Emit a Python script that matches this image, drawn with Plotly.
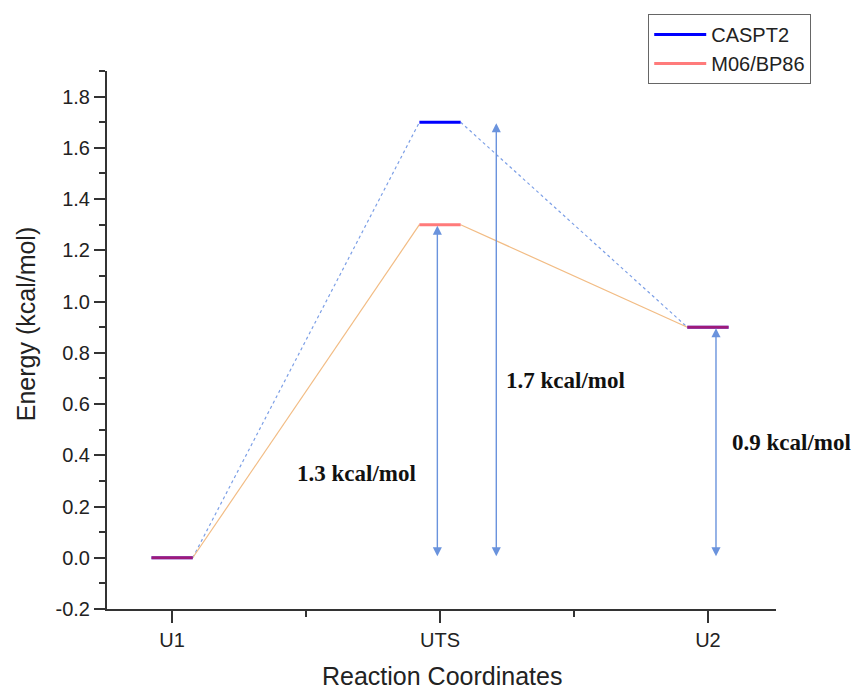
import plotly.graph_objects as go

# ---- data ----
states = ["U1", "UTS", "U2"]
state_pos = [1, 2, 3]
caspt2 = [0.0, 1.7, 0.9]
m06 = [0.0, 1.3, 0.9]
barrier_values = [1.3, 1.7, 0.9]
barrier_labels = ["1.3 kcal/mol", "1.7 kcal/mol", "0.9 kcal/mol"]
arrow_x = [1.99, 2.21, 3.03]
label_x = [1.69, 2.47, 3.312]
label_y = [0.33, 0.69, 0.45]
energy_ticks = [-0.2, 0.0, 0.2, 0.4, 0.6, 0.8, 1.0, 1.2, 1.4, 1.6, 1.8]
energy_ticktext = ["-0.2", "0.0", "0.2", "0.4", "0.6", "0.8", "1.0",
                   "1.2", "1.4", "1.6", "1.8"]

X_RANGE = [0.757, 3.254]
Y_RANGE = [-0.2, 1.9]
HW = 0.077  # half width of the level bars


def level_xy(vals):
    xs, ys = [], []
    for p, v in zip(state_pos, vals):
        xs += [p - HW, p + HW, None]
        ys += [v, v, None]
    return xs, ys


def connector_xy(vals):
    xs, ys = [], []
    for i in range(len(vals) - 1):
        xs += [state_pos[i] + HW, state_pos[i + 1] - HW, None]
        ys += [vals[i], vals[i + 1], None]
    return xs, ys


fig = go.Figure()

cx, cy = connector_xy(caspt2)
fig.add_trace(go.Scatter(x=cx, y=cy, mode="lines", showlegend=False,
                         line=dict(color="#7C9FE6", width=1.2, dash="dot"),
                         hoverinfo="skip"))
mx, my = connector_xy(m06)
fig.add_trace(go.Scatter(x=mx, y=my, mode="lines", showlegend=False,
                         line=dict(color="#F2BC84", width=1.2),
                         hoverinfo="skip"))

lx, ly = level_xy(caspt2)
fig.add_trace(go.Scatter(x=lx, y=ly, mode="lines", name="CASPT2",
                         line=dict(color="#0000FF", width=3)))
lx, ly = level_xy(m06)
fig.add_trace(go.Scatter(x=lx, y=ly, mode="lines", name="M06/BP86",
                         opacity=0.62,
                         line=dict(color="#FF2A2A", width=3)))

annotations = []
for x, v in zip(arrow_x, barrier_values):
    annotations.append(dict(
        x=x, y=v, ax=x, ay=0.0, xref="x", yref="y", axref="x", ayref="y",
        text="", showarrow=True, arrowside="end+start",
        arrowhead=2, startarrowhead=2, arrowsize=1.3, startarrowsize=1.3,
        arrowwidth=1.4, arrowcolor="#6A93DD", standoff=1, startstandoff=0))
# value labels (converted to paper coordinates so the one right of the
# axis range is still shown)
for t, x, y in zip(barrier_labels, label_x, label_y):
    px = (x - X_RANGE[0]) / (X_RANGE[1] - X_RANGE[0])
    py = (y - Y_RANGE[0]) / (Y_RANGE[1] - Y_RANGE[0])
    annotations.append(dict(
        x=px, y=py, xref="paper", yref="paper", text="<b>" + t + "</b>",
        showarrow=False, xanchor="center", yanchor="middle",
        font=dict(family="Liberation Serif, Times New Roman, serif",
                  size=23, color="#111111")))

title_font = dict(family="Liberation Sans, Arial, sans-serif", size=25,
                  color="#222222")
# axis titles placed as text
annotations.append(dict(
    x=-0.122, y=0.53, xref="paper", yref="paper", xanchor="center",
    yanchor="middle", textangle=-90, showarrow=False,
    text="Energy (kcal/mol)", font=title_font))
annotations.append(dict(
    x=0.5, y=-0.125, xref="paper", yref="paper", xanchor="center",
    yanchor="middle", showarrow=False,
    text="Reaction Coordinates", font=title_font))

axis_common = dict(
    showline=True, linewidth=2, linecolor="#333333", mirror=False,
    showgrid=False, zeroline=False, ticks="outside", tickwidth=2,
    tickcolor="#333333", automargin=False,
    tickfont=dict(family="Liberation Sans, Arial, sans-serif", size=20,
                  color="#222222"),
)

# the page adds an 8px body margin, so the figure is 8px smaller
fig.update_layout(
    width=853, height=683,
    margin=dict(l=99, r=85, t=63, b=82, autoexpand=False),
    paper_bgcolor="white", plot_bgcolor="white",
    font=dict(family="Liberation Sans, Arial, sans-serif", color="#222222"),
    xaxis=dict(
        range=X_RANGE, tickmode="array", tickvals=state_pos,
        ticktext=states, ticklen=12,
        minor=dict(ticks="outside", dtick=0.5, tick0=0.5, ticklen=6,
                   tickwidth=2, tickcolor="#333333"),
        **axis_common),
    yaxis=dict(
        range=Y_RANGE, tickmode="array", tickvals=energy_ticks,
        ticktext=energy_ticktext, ticklen=11,
        minor=dict(ticks="outside", dtick=0.1, tick0=0, ticklen=6,
                   tickwidth=2, tickcolor="#333333"),
        **axis_common),
    legend=dict(x=0.809, y=1.106, xanchor="left", yanchor="top",
                bordercolor="#666666", borderwidth=1, bgcolor="white",
                font=dict(size=20, color="#222222"),
                itemwidth=52, tracegroupgap=0),
    annotations=annotations,
)

fig.write_html("out.html")
